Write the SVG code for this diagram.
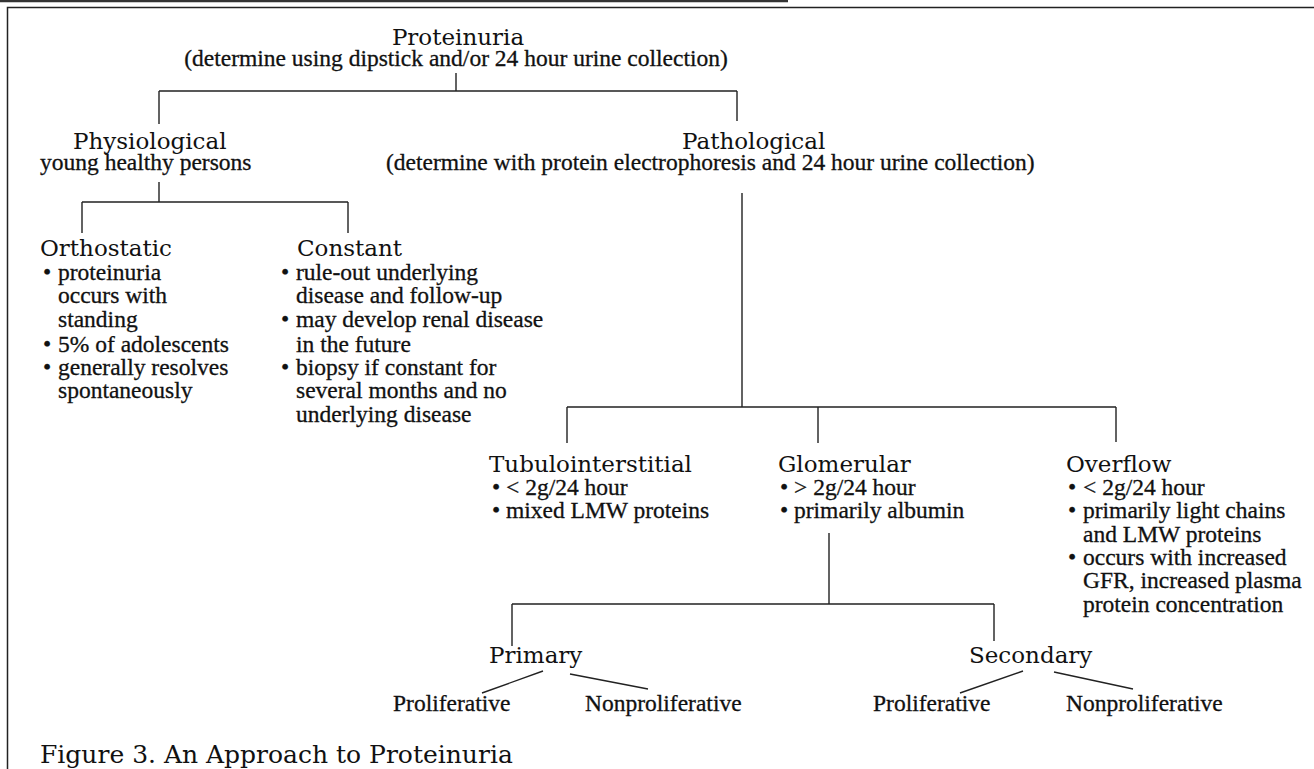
<svg xmlns="http://www.w3.org/2000/svg" width="1314" height="769" viewBox="0 0 1314 769">
<style>
.h{font-family:"DejaVu Serif","Liberation Serif",serif;font-size:23px;fill:#111}
.t{font-family:"Liberation Serif",serif;font-size:23.5px;fill:#111;stroke:#111;stroke-width:0.3}
.cap{font-family:"DejaVu Serif","Liberation Serif",serif;font-size:25px;fill:#111}
.ln{fill:none;stroke:#222;stroke-width:1.4}
</style>
<rect width="1314" height="769" fill="#fff"/>
<line x1="0" y1="1" x2="788" y2="1" stroke="#333" stroke-width="2.5"/>
<path d="M7.5,780 V7.5 H1320" fill="none" stroke="#222" stroke-width="1.5"/>
<g id="connectors">
<path class="ln" d="M456,73 V91 M159,91 H737 M159,91 V124 M737,91 V121"/>
<path class="ln" d="M159,182 V202 M82,202 H348 M82,202 V233 M348,202 V233"/>
<path class="ln" d="M742,193 V407 M567,407 H1116 M567,407 V443 M818,407 V443 M1116,407 V442"/>
<path class="ln" d="M829,533 V604 M512,604 H994 M512,604 V646 M994,604 V641"/>
<path class="ln" d="M543,671 L482,693 M570,674 L648,689 M1023,671 L960,693 M1054,672 L1133,689"/>
</g>
<g id="proteinuria">
<text class="h" x="458" y="45" text-anchor="middle">Proteinuria</text>
<text class="t" x="456" y="66" text-anchor="middle">(determine using dipstick and/or 24 hour urine collection)</text>
</g>
<g id="physiological">
<text class="h" x="73" y="149">Physiological</text>
<text class="t" x="40" y="170">young healthy persons</text>
</g>
<g id="pathological">
<text class="h" x="682" y="149">Pathological</text>
<text class="t" x="386" y="170">(determine with protein electrophoresis and 24 hour urine collection)</text>
</g>
<g id="orthostatic">
<text class="h" x="40" y="256">Orthostatic</text>
<text class="t" x="43" y="280">•</text><text class="t" x="58" y="280">proteinuria</text>
<text class="t" x="58" y="303">occurs with</text>
<text class="t" x="58" y="327">standing</text>
<text class="t" x="43" y="352">•</text><text class="t" x="58" y="352">5% of adolescents</text>
<text class="t" x="43" y="375">•</text><text class="t" x="58" y="375">generally resolves</text>
<text class="t" x="58" y="398">spontaneously</text>
</g>
<g id="constant">
<text class="h" x="297" y="256">Constant</text>
<text class="t" x="281" y="280">•</text><text class="t" x="296" y="280">rule-out underlying</text>
<text class="t" x="296" y="303">disease and follow-up</text>
<text class="t" x="281" y="327">•</text><text class="t" x="296" y="327">may develop renal disease</text>
<text class="t" x="296" y="352">in the future</text>
<text class="t" x="281" y="375">•</text><text class="t" x="296" y="375">biopsy if constant for</text>
<text class="t" x="296" y="398">several months and no</text>
<text class="t" x="296" y="422">underlying disease</text>
</g>
<g id="tubulointerstitial">
<text class="h" x="489" y="472">Tubulointerstitial</text>
<text class="t" x="492" y="495">•</text><text class="t" x="506" y="495">&lt; 2g/24 hour</text>
<text class="t" x="492" y="518">•</text><text class="t" x="506" y="518">mixed LMW proteins</text>
</g>
<g id="glomerular">
<text class="h" x="778" y="472">Glomerular</text>
<text class="t" x="780" y="495">•</text><text class="t" x="794" y="495">&gt; 2g/24 hour</text>
<text class="t" x="780" y="518">•</text><text class="t" x="794" y="518">primarily albumin</text>
</g>
<g id="overflow">
<text class="h" x="1066" y="472">Overflow</text>
<text class="t" x="1068" y="495">•</text><text class="t" x="1083" y="495">&lt; 2g/24 hour</text>
<text class="t" x="1068" y="518">•</text><text class="t" x="1083" y="518">primarily light chains</text>
<text class="t" x="1083" y="542">and LMW proteins</text>
<text class="t" x="1068" y="565">•</text><text class="t" x="1083" y="565">occurs with increased</text>
<text class="t" x="1083" y="588">GFR, increased plasma</text>
<text class="t" x="1083" y="612">protein concentration</text>
</g>
<g id="primary">
<text class="h" x="489" y="663">Primary</text>
</g>
<g id="secondary">
<text class="h" x="969" y="663">Secondary</text>
</g>
<g id="primary-proliferative"><text class="t" x="393" y="711">Proliferative</text></g>
<g id="primary-nonproliferative"><text class="t" x="585" y="711">Nonproliferative</text></g>
<g id="secondary-proliferative"><text class="t" x="873" y="711">Proliferative</text></g>
<g id="secondary-nonproliferative"><text class="t" x="1066" y="711">Nonproliferative</text></g>
<text class="cap" x="40" y="763">Figure 3. An Approach to Proteinuria</text>
</svg>
